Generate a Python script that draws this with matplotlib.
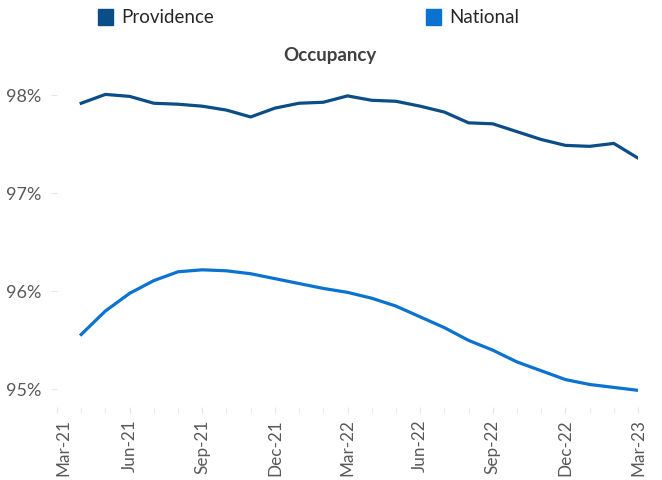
import matplotlib
matplotlib.use("Agg")
import matplotlib.pyplot as plt
import matplotlib.transforms as mtransforms
from matplotlib.patches import Rectangle

months = ["Mar-21", "Apr-21", "May-21", "Jun-21", "Jul-21", "Aug-21", "Sep-21", "Oct-21", "Nov-21",
          "Dec-21", "Jan-22", "Feb-22", "Mar-22", "Apr-22", "May-22", "Jun-22", "Jul-22", "Aug-22",
          "Sep-22", "Oct-22", "Nov-22", "Dec-22", "Jan-23", "Feb-23", "Mar-23"]
providence = [97.92, 98.01, 97.99, 97.92, 97.91, 97.89, 97.85, 97.78, 97.87, 97.92, 97.93,
              97.995, 97.95, 97.94, 97.89, 97.83, 97.72, 97.71, 97.63, 97.55, 97.49, 97.48,
              97.51, 97.36]
national = [95.56, 95.80, 95.98, 96.11, 96.20, 96.22, 96.21, 96.18, 96.13, 96.08, 96.03,
            95.99, 95.93, 95.85, 95.74, 95.63, 95.50, 95.40, 95.28, 95.19, 95.10, 95.05,
            95.02, 94.99]
yticks = [95, 96, 97, 98]
ytick_labels = ["95%", "96%", "97%", "98%"]
series_names = ["Providence", "National"]
colors = ["#0B4D87", "#0A72CF"]

plt.rcParams['font.family'] = ['Lato', 'DejaVu Sans']

fig = plt.figure(figsize=(6.62, 4.8), dpi=100)
ax = fig.add_axes([57/662, 1 - 407/480, (638 - 57)/662, (407 - 66)/480])

x = list(range(1, len(months)))
ax.plot(x, providence, color=colors[0], lw=2.3, solid_joinstyle='round')
ax.plot(x, national, color=colors[1], lw=2.3, solid_joinstyle='round')

ax.set_xlim(0, len(months) - 1)
ax.set_ylim(94.82, 98.3)
for s in ax.spines.values():
    s.set_visible(False)

ax.set_xticks(range(0, len(months), 3))
ax.set_xticklabels(months[::3], rotation=90, fontsize=12.3, color="#595959")
ax.set_xticks(range(len(months)), minor=True)
ax.tick_params(axis='x', which='both', length=4, color="#E6E6E6", pad=5)
first = ax.get_xticklabels()[0]
first.set_transform(first.get_transform() + mtransforms.ScaledTranslation(6/100, 0, fig.dpi_scale_trans))
ax.set_yticks(yticks)
ax.set_yticklabels(ytick_labels, fontsize=13, color="#595959")
ax.tick_params(axis='y', length=4, color="#E6E6E6", pad=7)

fig.text(330/662, 1 - 55/480, "Occupancy", ha='center', va='center', fontsize=13.5,
         fontweight='bold', color="#404040")

legend_items = [(98, series_names[0], colors[0]), (426, series_names[1], colors[1])]
for px, name, c in legend_items:
    fig.patches.append(Rectangle((px/662, 1 - 25/480), 15/662, 16/480, transform=fig.transFigure,
                                 color=c, figure=fig))
    fig.text((px + 23)/662, 1 - 17.5/480, name, ha='left', va='center', fontsize=13.5, color="#262626")

fig.savefig("out.png", dpi=100)
